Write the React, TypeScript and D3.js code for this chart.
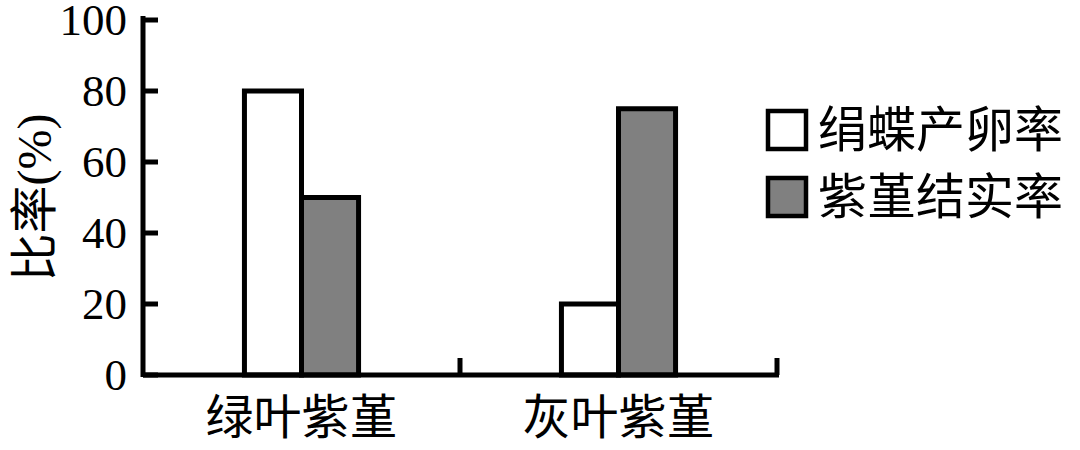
import React, { useRef, useEffect } from "react";
import * as d3 from "d3";

const categories = ["绿叶紫堇", "灰叶紫堇"];
const seriesNames = ["绢蝶产卵率", "紫堇结实率"];
const eggRate = [80, 20];
const fruitRate = [50, 75];
const yTicks = [0, 20, 40, 60, 80, 100];

const colors = ["#ffffff", "#808080"];
const serif = "'Liberation Serif', 'Times New Roman', serif";
const cjk = "'Noto Sans CJK SC', sans-serif";

const App: React.FC = () => {
  const svgRef = useRef<SVGSVGElement>(null);
  const width = 1080;
  const height = 450;

  useEffect(() => {
    if (!svgRef.current) return;
    const svg = d3.select(svgRef.current);
    svg.selectAll("*").remove();

    const margin = { top: 20, left: 143, bottom: 375, right: 777 };

    const x = d3
      .scaleBand()
      .domain(categories)
      .range([margin.left, margin.right])
      .padding(0);

    const y = d3.scaleLinear().domain([0, 100]).range([margin.bottom, margin.top]);

    const barW = x.bandwidth() * 0.18;

    // bars: white then gray, side by side around band centre
    const series = [eggRate, fruitRate];
    series.forEach((vals, si) => {
      svg
        .append("g")
        .selectAll("rect")
        .data(vals)
        .enter()
        .append("rect")
        .attr("x", (_d, i) => (x(categories[i]) ?? 0) + x.bandwidth() / 2 + (si - 1) * barW)
        .attr("y", (d) => y(d))
        .attr("width", barW)
        .attr("height", (d) => y(0) - y(d))
        .attr("fill", colors[si])
        .attr("stroke", "#000")
        .attr("stroke-width", 5);
    });

    // y axis
    const yAxis = svg.append("g");
    yAxis
      .append("line")
      .attr("x1", margin.left)
      .attr("x2", margin.left)
      .attr("y1", y(100) - 4)
      .attr("y2", y(0) + 2)
      .attr("stroke", "#000")
      .attr("stroke-width", 5);
    yAxis
      .selectAll(".tick")
      .data(yTicks)
      .enter()
      .append("line")
      .attr("x1", margin.left)
      .attr("x2", margin.left + 15)
      .attr("y1", (d) => y(d))
      .attr("y2", (d) => y(d))
      .attr("stroke", "#000")
      .attr("stroke-width", 5);
    yAxis
      .selectAll(".lbl")
      .data(yTicks)
      .enter()
      .append("text")
      .attr("x", margin.left - 16)
      .attr("y", (d) => y(d))
      .attr("dy", "0.34em")
      .attr("text-anchor", "end")
      .attr("font-family", serif)
      .attr("font-size", 45)
      .text((d) => d);

    // x axis
    const xAxis = svg.append("g");
    xAxis
      .append("line")
      .attr("x1", margin.left)
      .attr("x2", margin.right + 2)
      .attr("y1", y(0))
      .attr("y2", y(0))
      .attr("stroke", "#000")
      .attr("stroke-width", 5);
    xAxis
      .selectAll(".tick")
      .data(categories)
      .enter()
      .append("line")
      .attr("x1", (d) => (x(d) ?? 0) + x.bandwidth())
      .attr("x2", (d) => (x(d) ?? 0) + x.bandwidth())
      .attr("y1", y(0))
      .attr("y2", y(0) - 17)
      .attr("stroke", "#000")
      .attr("stroke-width", 5);
    xAxis
      .selectAll(".lbl")
      .data(categories)
      .enter()
      .append("text")
      .attr("x", (d) => (x(d) ?? 0) + x.bandwidth() / 2)
      .attr("y", y(0) + 42)
      .attr("dy", "0.35em")
      .attr("text-anchor", "middle")
      .attr("font-family", cjk)
      .attr("font-size", 48)
      .text((d) => d);

    // y label
    const yl = svg
      .append("text")
      .attr("transform", `translate(34, ${(y(0) + y(100)) / 2}) rotate(-90)`)
      .attr("text-anchor", "middle")
      .attr("dy", "0.35em")
      .attr("font-size", 48);
    yl.append("tspan").attr("font-family", cjk).text("比率");
    yl.append("tspan").attr("font-family", serif).text("(%)");

    // legend
    const legend = svg.append("g").attr("transform", "translate(766, 109)");
    seriesNames.forEach((name, i) => {
      const g = legend.append("g").attr("transform", `translate(0, ${i * 67})`);
      g.append("rect")
        .attr("x", 2)
        .attr("y", 2)
        .attr("width", 38)
        .attr("height", 38)
        .attr("fill", colors[i])
        .attr("stroke", "#000")
        .attr("stroke-width", 4.5);
      g.append("text")
        .attr("x", 52)
        .attr("y", 21)
        .attr("dy", "0.35em")
        .attr("font-family", cjk)
        .attr("font-size", 49)
        .text(name);
    });
  }, []);

  return (
    <svg
      ref={svgRef}
      width={width}
      height={height}
      style={{ position: "absolute", left: 0, top: 0, background: "#fff" }}
    ></svg>
  );
};

export default App;
